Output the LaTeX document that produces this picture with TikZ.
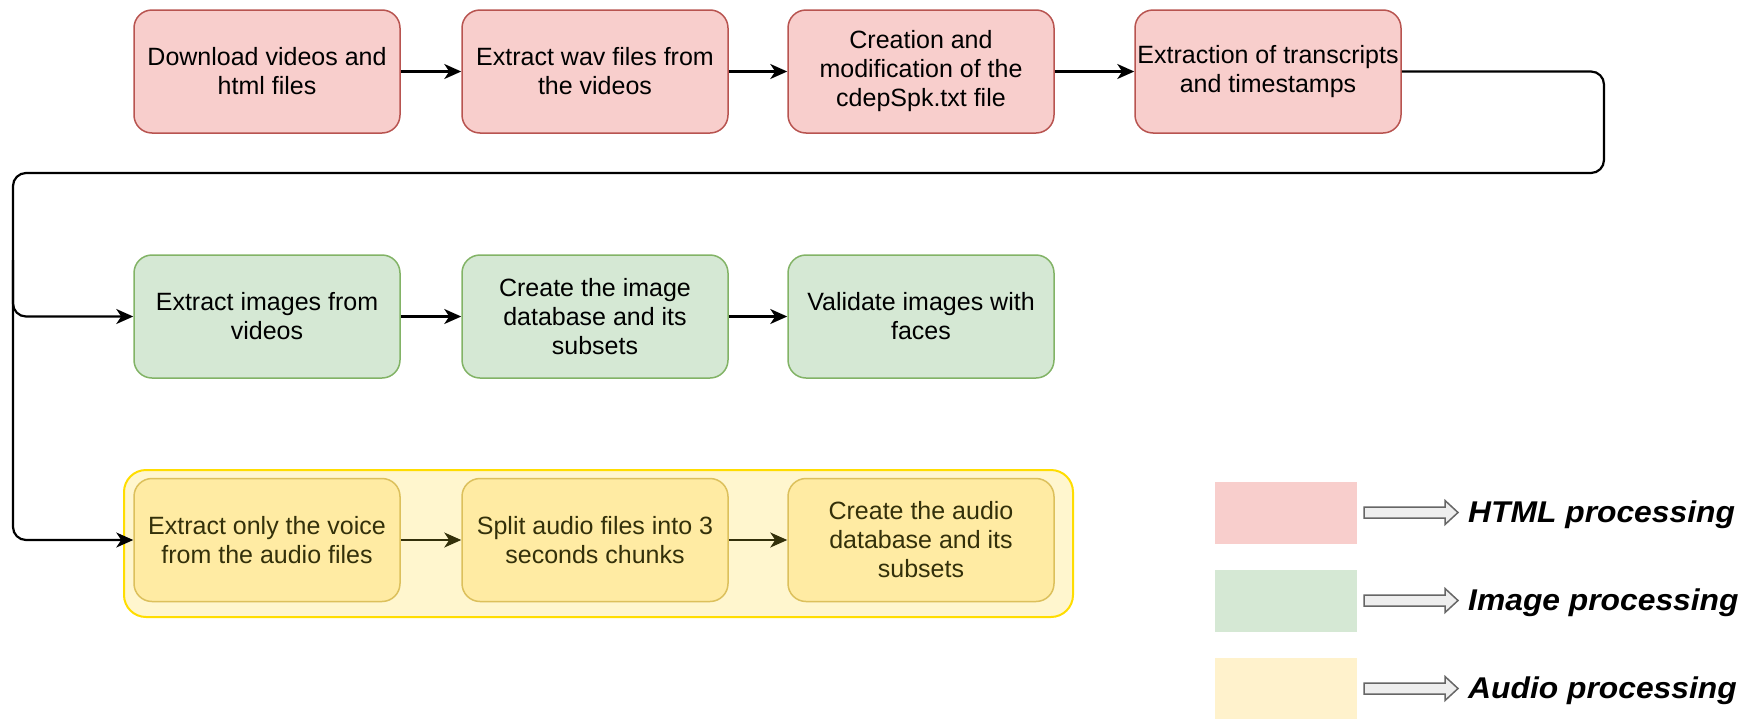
\documentclass[tikz,border=0pt]{standalone}
\usepackage{fontspec}
\setmainfont{Liberation Sans}
\usetikzlibrary{arrows.meta}

\definecolor{htmlfill}{HTML}{F8CECC}
\definecolor{htmlline}{HTML}{B85450}
\definecolor{imgfill}{HTML}{D5E8D4}
\definecolor{imgline}{HTML}{82B366}
\definecolor{audfill}{HTML}{FFEBA3}
\definecolor{audline}{HTML}{DCC05C}
\definecolor{audtext}{HTML}{33300A}
\definecolor{groupfill}{HTML}{FFF6CE}
\definecolor{groupline}{HTML}{FFDD00}
\definecolor{keyaudio}{HTML}{FFF2CC}
\definecolor{keyarrowfill}{HTML}{EEEEEE}
\definecolor{keyarrowline}{HTML}{666666}

\tikzset{
  stage/.style={rounded corners=18pt, minimum width=266pt, minimum height=123pt,
    align=center, inner sep=0pt, line width=1.5pt,
    font=\fontsize{25}{29}\selectfont},
  htmlstage/.style={stage, fill=htmlfill, draw=htmlline},
  imgstage/.style={stage, fill=imgfill, draw=imgline},
  audstage/.style={stage, fill=audfill, draw=audline, text=audtext},
  group/.style={rounded corners=22pt, minimum width=949pt, minimum height=147pt,
    inner sep=0pt, fill=groupfill, draw=groupline, line width=2pt},
  flow/.style={line width=2.2pt, -{Stealth[length=17pt,width=15pt,inset=5pt]}},
  keybox/.style={minimum width=142pt, minimum height=62pt, inner sep=0pt},
  keyarrow/.style={draw=keyarrowline, fill=keyarrowfill, line width=1.5pt,
    line join=miter},
  keytext/.style={anchor=base west, inner sep=0pt,
    font=\fontsize{30}{34}\selectfont\bfseries\itshape},
}

\begin{document}
\begin{tikzpicture}[x=1pt,y=-1pt]
\path[use as bounding box] (0,0) rectangle (1746,718);

% audio group background
\node[group] (audiogroup) at (598.5,543.5) {};

% HTML processing row
\node[htmlstage] (h1) at (267,71.5) {Download videos and\\html files};
\node[htmlstage] (h2) at (595,71.5) {Extract wav files from\\the videos};
\node[htmlstage] (h3) at (921,71.5) {Creation and\\modification of the\\cdepSpk.txt file};
\node[htmlstage] (h4) at (1268,71.5) {Extraction of transcripts\\and timestamps};

% image processing row
\node[imgstage] (g1) at (267,316.5) {Extract images from\\videos};
\node[imgstage] (g2) at (595,316.5) {Create the image\\database and its\\subsets};
\node[imgstage] (g3) at (921,316.5) {Validate images with\\faces};

% audio processing row
\node[audstage] (a1) at (267,540) {Extract only the voice\\from the audio files};
\node[audstage] (a2) at (595,540) {Split audio files into 3\\seconds chunks};
\node[audstage] (a3) at (921,540) {Create the audio\\database and its\\subsets};

% flow within rows
\draw[flow] (h1) -- (h2);
\draw[flow] (h2) -- (h3);
\draw[flow] (h3) -- (h4);
\draw[flow] (g1) -- (g2);
\draw[flow] (g2) -- (g3);
\draw[flow, draw=audtext] (a1) -- (a2);
\draw[flow, draw=audtext] (a2) -- (a3);

% return line feeding the next rows
\coordinate (bus) at (13,260);
\draw[flow, rounded corners=13pt] (h4.east) -- (1604,71.5) -- (1604,173)
  -- (13,173) -- (13,316.5) -- (g1.west);
\draw[flow, rounded corners=13pt] (bus) -- (13,540) -- (a1.west);

% legend swatches
\node[keybox, fill=htmlfill] (k1) at (1286,512.5) {};
\node[keybox, fill=imgfill] (k2) at (1286,600.5) {};
\node[keybox, fill=keyaudio] (k3) at (1286,688.5) {};

% legend block arrows
\foreach \ky in {512.5,600.5,688.5}
  \draw[keyarrow] (1364,\ky) ++(0,-5.5) -- ++(81,0) -- ++(0,-6.5)
    -- ++(13,12) -- ++(-13,12) -- ++(0,-6.5) -- ++(-81,0) -- cycle;

% legend labels
\node[keytext] (t1) at (1468,522) {\scalebox{1.06}[1]{HTML processing}};
\node[keytext] (t2) at (1468,610) {\scalebox{1.06}[1]{Image processing}};
\node[keytext] (t3) at (1468,698) {\scalebox{1.06}[1]{Audio processing}};
\end{tikzpicture}
\end{document}
